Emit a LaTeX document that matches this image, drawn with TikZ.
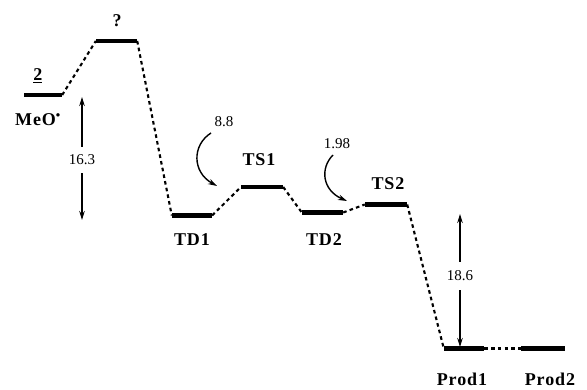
\documentclass[tikz,border=0pt]{standalone}
\usepackage{fontspec}
\setmainfont{Liberation Serif}
\newfontfamily\labfont[LetterSpace=5]{Liberation Serif}
\usetikzlibrary{arrows.meta}
\begin{document}
\begin{tikzpicture}[x=1pt,y=-1pt,
  lvl/.style={fill=black,inner sep=0pt,minimum height=4.2pt,minimum width=#1},
  lvl/.default=40pt,
  conn/.style={line width=2.1pt,dash pattern=on 3.6pt off 3.2pt},
  arr/.style={line width=1.4pt,-{Stealth[length=9pt,width=5.5pt]}},
  lab/.style={font=\fontsize{18}{20}\labfont\bfseries,inner sep=0pt},
  num/.style={font=\fontsize{15}{17}\selectfont,inner sep=0pt}]
\useasboundingbox (0,0) rectangle (587,390);
% levels
\node[lvl=38pt] (r2) at (43,95) {};
\node[lvl=41pt] (rQ) at (116.5,41) {};
\node[lvl=40pt] (td1) at (192,215.5) {};
\node[lvl=42pt] (ts1) at (262,187) {};
\node[lvl=41pt] (td2) at (322.5,212.5) {};
\node[lvl=42pt] (ts2) at (386,204.5) {};
\node[lvl=40pt] (p1) at (464,348.5) {};
\node[lvl=44pt] (p2) at (543,348.5) {};
% connectors
\draw[conn] (r2.east) -- (rQ.west);
\draw[conn] (rQ.east) -- (td1.west);
\draw[conn] (td1.east) -- (ts1.west);
\draw[conn] (ts1.east) -- (td2.west);
\draw[conn] (td2.east) -- (ts2.west);
\draw[conn] (ts2.east) -- (p1.west);
\draw[conn] (p1.east) -- (p2.west);
% labels
\node[lab] (l2) at (38,76) {\underline{2}};
\node[lab] (lmeo) at (38,120) {MeO\textsuperscript{\textbullet}};
\node[lab] (lq) at (117,21) {?};
\node[lab] (ltd1) at (192,240) {TD1};
\node[lab] (lts1) at (259,160) {TS1};
\node[lab] (ltd2) at (324,240) {TD2};
\node[lab] (lts2) at (388,184) {TS2};
\node[lab] (lp1) at (462,379) {Prod1};
\node[lab] (lp2) at (550,379) {Prod2};
% energy arrows
\node[num,inner ysep=8pt] (n163) at (82,160) {16.3};
\coordinate (a1t) at (82,97);
\coordinate (a1b) at (82,220);
\draw[arr] (n163) -- (a1t);
\draw[arr] (n163) -- (a1b);
\node[num,inner ysep=9pt] (n186) at (460,276) {18.6};
\coordinate (a2t) at (460,214);
\coordinate (a2b) at (460,347);
\draw[arr] (n186) -- (a2t);
\draw[arr] (n186) -- (a2b);
% curved arrows
\node[num] (n88) at (224,122) {8.8};
\coordinate (c1s) at (211,133);
\coordinate (c1e) at (217,186);
\draw[arr] (c1s) .. controls (192,145) and (192,172) .. (c1e);
\node[num] (n198) at (337,144) {1.98};
\coordinate (c2s) at (333,155);
\coordinate (c2e) at (347,201);
\draw[arr] (c2s) .. controls (320,168) and (322,190) .. (c2e);
\end{tikzpicture}
\end{document}
